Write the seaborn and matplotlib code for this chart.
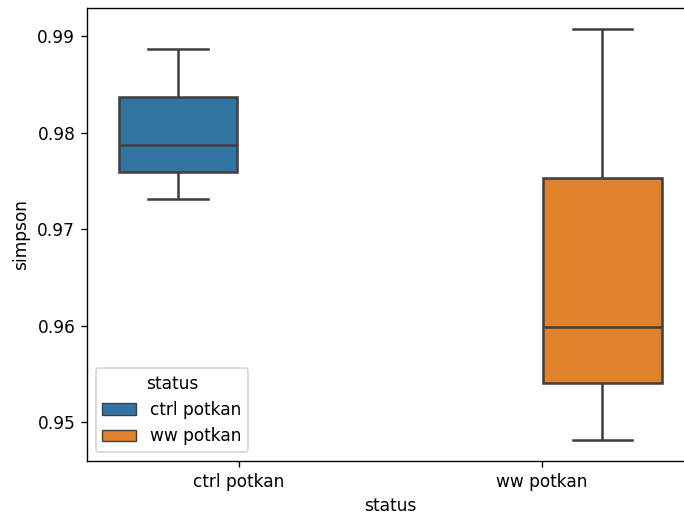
import pandas as pd
import seaborn as sns
import matplotlib.pyplot as plt
from matplotlib.patches import Patch

# five-number summaries
ctrl_vals = [0.97319, 0.97593, 0.97877, 0.98376, 0.98869]
ww_vals = [0.94816, 0.95403, 0.95984, 0.97527, 0.99080]
groups = ["ctrl potkan", "ww potkan"]

df = pd.DataFrame({
    "status": [groups[0]] * len(ctrl_vals) + [groups[1]] * len(ww_vals),
    "simpson": ctrl_vals + ww_vals,
})

DPI = 122
fig = plt.figure(figsize=(684 / DPI, 516 / DPI), dpi=DPI)
ax = fig.add_axes([87.2 / 684, 55.3 / 516, 606 / 684, 452.7 / 516])

sns.boxplot(
    data=df,
    x="status",
    y="simpson",
    hue="status",
    dodge=True,
    gap=0.02,
    linecolor="#3f3f3f",
    linewidth=1.5,
    saturation=0.75,
    ax=ax,
)

ax.set_yticks([0.95, 0.96, 0.97, 0.98, 0.99])

# hue is the same as x, so seaborn leaves the legend empty; build it by hand
handles = [
    Patch(facecolor=p.get_facecolor(), edgecolor="#3f3f3f", linewidth=0.8, label=g)
    for p, g in zip(ax.patches, groups)
]
ax.legend(handles=handles, title="status", loc="lower left")

fig.savefig("out.png", dpi=DPI)
